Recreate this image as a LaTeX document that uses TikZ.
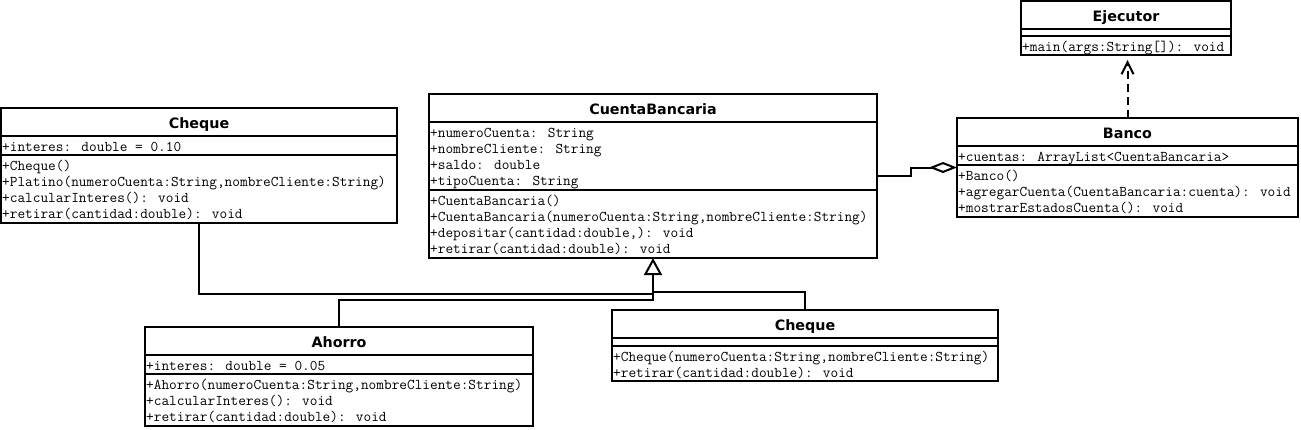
\documentclass[tikz,border=0pt]{standalone}
\usepackage{fontspec}
\usetikzlibrary{arrows.meta,calc,fit}
\newfontfamily\titlefont{DejaVu Sans}
\tikzset{
  x=1pt, y=-1pt,
  classbox/.style={draw, line width=2pt, inner sep=0pt, outer sep=0pt},
  sepline/.style={line width=2pt},
  umltitle/.style={anchor=base, inner sep=0pt, font=\titlefont\bfseries\fontsize{14.3}{16}\selectfont},
  umlrow/.style={anchor=base west, inner sep=0pt, font=\ttfamily\fontsize{14.9}{16}\selectfont},
  conn/.style={line width=2pt},
  gen/.style={conn, -{Triangle[open,length=17pt,width=18pt]}},
  agg/.style={conn, -{Diamond[open,length=28pt,width=11pt]}},
  dep/.style={conn, dash pattern=on 8pt off 5pt, shorten >=5pt, -{Straight Barb[length=12pt,width=12pt]}},
}
\newcommand\umlsep[2]{\draw[sepline] ($(#1.north west)+(0,#2)$) -- ($(#1.north east)+(0,#2)$);}
\begin{document}
\begin{tikzpicture}
\useasboundingbox (0,0) rectangle (1301,429);

% ---- Cheque (left)
\node[classbox, fit={(1,108) (397,223)}] (chequeL) {};
\umlsep{chequeL}{28}
\umlsep{chequeL}{47}
\node[umltitle] (chequeLt) at ($(chequeL.north)+(0,20)$) {Cheque};
\node[umlrow] (chequeLa1) at (2,151) {+interes: double = 0.10};
\node[umlrow] (chequeLm1) at (2,170) {+Cheque()};
\node[umlrow] (chequeLm2) at (2,186) {+Platino(numeroCuenta:String,nombreCliente:String)};
\node[umlrow] (chequeLm3) at (2,202) {+calcularInteres(): void};
\node[umlrow] (chequeLm4) at (2,218) {+retirar(cantidad:double): void};

% ---- CuentaBancaria
\node[classbox, fit={(429,94) (877,258)}] (cb) {};
\umlsep{cb}{28}
\umlsep{cb}{96}
\node[umltitle] (cbt) at ($(cb.north)+(0,20)$) {CuentaBancaria};
\node[umlrow] (cba1) at (430,137) {+numeroCuenta: String};
\node[umlrow] (cba2) at (430,153) {+nombreCliente: String};
\node[umlrow] (cba3) at (430,169) {+saldo: double};
\node[umlrow] (cba4) at (430,185) {+tipoCuenta: String};
\node[umlrow] (cbm1) at (430,205) {+CuentaBancaria()};
\node[umlrow] (cbm2) at (430,221) {+CuentaBancaria(numeroCuenta:String,nombreCliente:String)};
\node[umlrow] (cbm3) at (430,237) {+depositar(cantidad:double,): void};
\node[umlrow] (cbm4) at (430,253) {+retirar(cantidad:double): void};

% ---- Ejecutor
\node[classbox, fit={(1021,1) (1231,55)}] (ejec) {};
\umlsep{ejec}{28}
\umlsep{ejec}{35}
\node[umltitle] (eject) at ($(ejec.north)+(0,20)$) {Ejecutor};
\node[umlrow] (ejecm1) at (1022,51) {+main(args:String[]): void};

% ---- Banco
\node[classbox, fit={(957,118) (1298,217)}] (banco) {};
\umlsep{banco}{28}
\umlsep{banco}{47}
\node[umltitle] (bancot) at ($(banco.north)+(0,20)$) {Banco};
\node[umlrow] (bancoa1) at (958,161) {+cuentas: ArrayList<CuentaBancaria>};
\node[umlrow] (bancom1) at (958,180) {+Banco()};
\node[umlrow] (bancom2) at (958,196) {+agregarCuenta(CuentaBancaria:cuenta): void};
\node[umlrow] (bancom3) at (958,212) {+mostrarEstadosCuenta(): void};

% ---- Ahorro
\node[classbox, fit={(145,327) (533,426)}] (ahorro) {};
\umlsep{ahorro}{28}
\umlsep{ahorro}{47}
\node[umltitle] (ahorrot) at ($(ahorro.north)+(0,20)$) {Ahorro};
\node[umlrow] (ahorroa1) at (146,370) {+interes: double = 0.05};
\node[umlrow] (ahorrom1) at (146,389) {+Ahorro(numeroCuenta:String,nombreCliente:String)};
\node[umlrow] (ahorrom2) at (146,405) {+calcularInteres(): void};
\node[umlrow] (ahorrom3) at (146,421) {+retirar(cantidad:double): void};

% ---- Cheque (bottom)
\node[classbox, fit={(612,310) (998,381)}] (chequeB) {};
\umlsep{chequeB}{28}
\umlsep{chequeB}{36}
\node[umltitle] (chequeBt) at ($(chequeB.north)+(0,20)$) {Cheque};
\node[umlrow] (chequeBm1) at (613,361) {+Cheque(numeroCuenta:String,nombreCliente:String)};
\node[umlrow] (chequeBm2) at (613,377) {+retirar(cantidad:double): void};

% ---- connectors
\draw[conn] (chequeL.south) |- ($(cb.south)+(0,36)$);
\draw[conn] (chequeB.north) |- ($(cb.south)+(0,34)$);
\draw[gen] (ahorro.north) |- ($(cb.south)+(0,42)$) -- (cb.south);
\draw[agg] (cb.east) -- ++(34,0) |- (banco.west);
\draw[dep] (banco.north) -- (banco.north |- ejec.south);
\end{tikzpicture}
\end{document}
